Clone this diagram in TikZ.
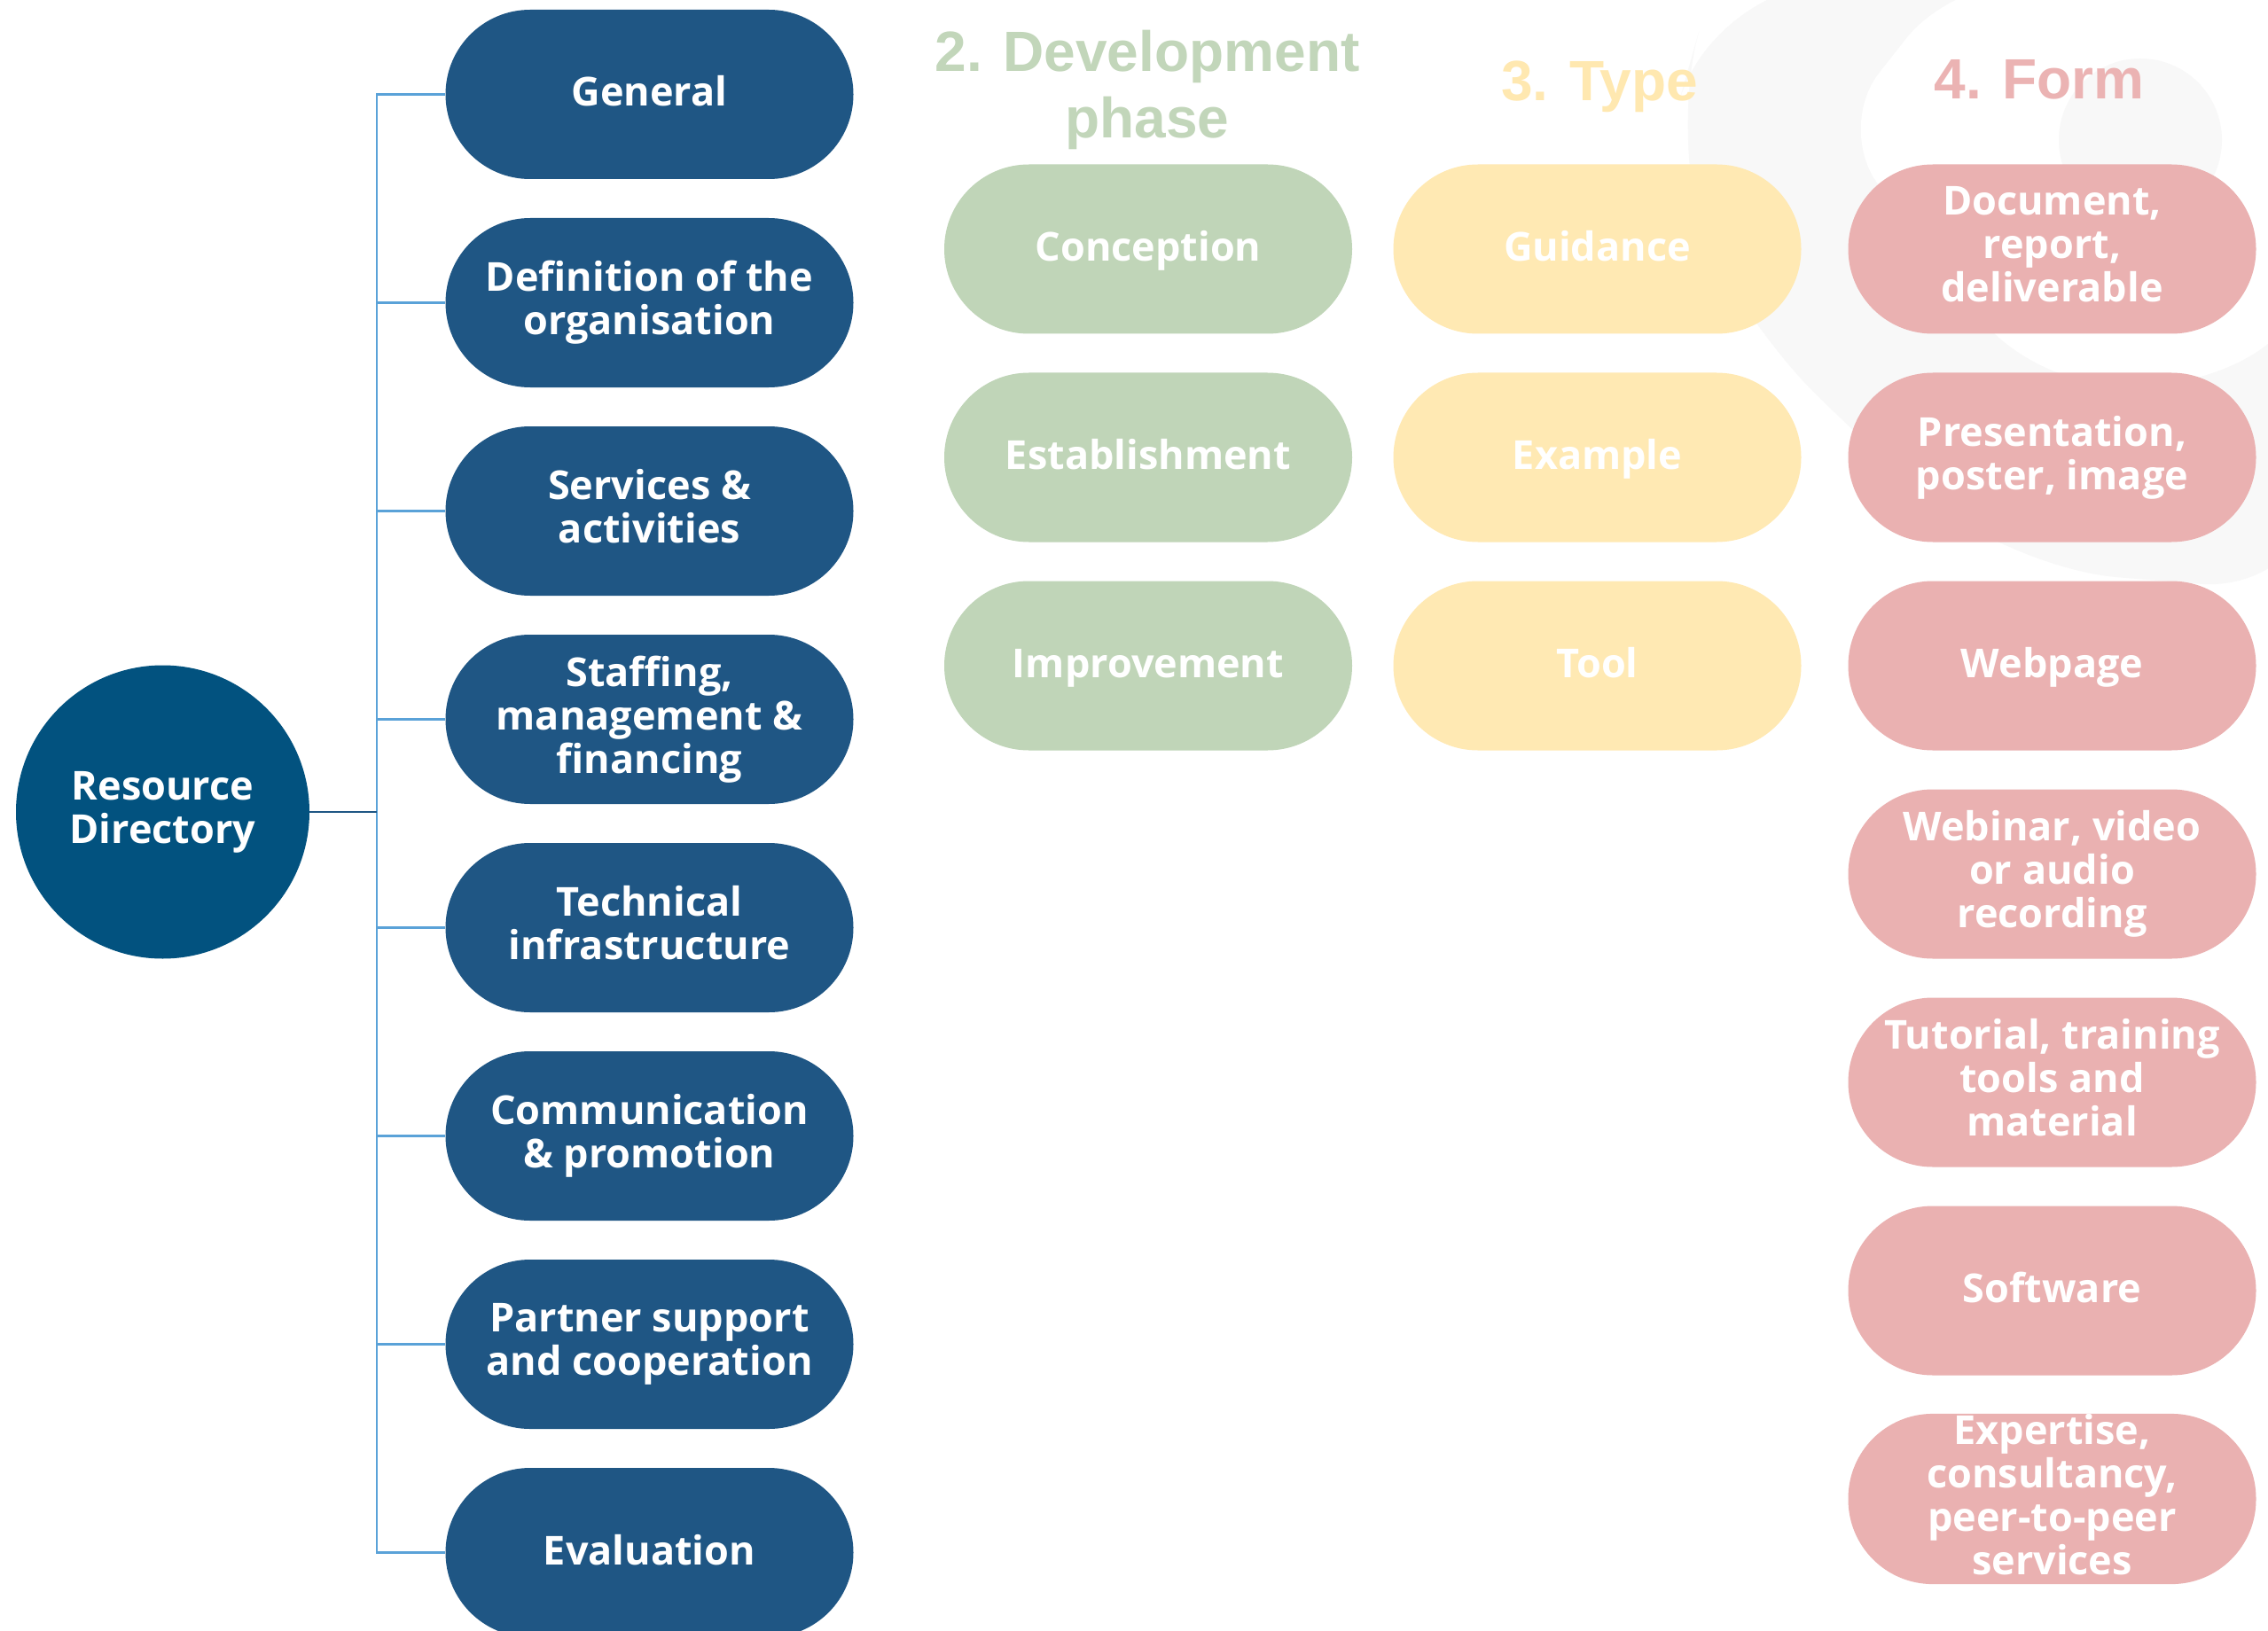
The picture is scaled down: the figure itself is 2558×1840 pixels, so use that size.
\documentclass[tikz,border=0pt]{standalone}
\usepackage{fontspec}
\newfontfamily\pillfont{Open Sans}
\newfontfamily\headfont{Liberation Sans}
\definecolor{pillblue}{HTML}{1F5684}
\definecolor{circblue}{HTML}{02527F}
\definecolor{linkblue}{HTML}{5AA2D8}
\definecolor{pillgreen}{HTML}{C0D5B8}
\definecolor{pillyellow}{HTML}{FFE9B3}
\definecolor{pillpink}{HTML}{EAB1B1}
\definecolor{headgreen}{HTML}{C2D6BA}
\definecolor{headyellow}{HTML}{FFE8B0}
\definecolor{headpink}{HTML}{EBB3B3}
\definecolor{wmgrey}{HTML}{F8F8F8}
\newcommand\pillstrut{\rule[-5.5pt]{0pt}{24.5pt}}
\begin{document}
\begin{tikzpicture}[x=0.5pt,y=-0.5pt,
  pill/.style={rectangle, rounded corners=47.7pt, minimum width=230pt,
    minimum height=95.5pt, inner sep=0pt, align=center, text=white,
    font=\pillfont\bfseries\fontsize{22.5}{24.5}\selectfont,
    execute at begin node=\pillstrut, execute at end node=\pillstrut},
  bluepill/.style={pill, fill=pillblue},
  greenpill/.style={pill, fill=pillgreen},
  yellowpill/.style={pill, fill=pillyellow},
  pinkpill/.style={pill, fill=pillpink},
  rootnode/.style={circle, fill=circblue, minimum size=165.5pt, inner sep=0pt,
    align=center, text=white, font=\pillfont\bfseries\fontsize{22.5}{24.5}\selectfont,
    execute at begin node=\pillstrut, execute at end node=\pillstrut},
  header/.style={align=center, inner sep=0pt,
    font=\headfont\bfseries\fontsize{32}{37.5}\selectfont},
  link/.style={draw=linkblue, line width=1.2pt},
  mainlink/.style={draw=pillblue, line width=1.2pt}
]
\useasboundingbox (0,0) rectangle (2558,1840);
\fill[white] (0,0) rectangle (2558,1840);
\clip (0,0) rectangle (2558,1840);
% faint watermark
\fill[wmgrey, rounded corners=70pt] (1932,-20) -- (1878,170) -- (1950,350)
  -- (2250,640) -- (2620,670) -- (2620,-20) -- cycle;
\fill[white, rounded corners=40pt] (2200,-20) -- (2070,145) -- (2285,425)
  -- (2490,440) -- (2620,340) -- (2620,-20) -- cycle;
\fill[wmgrey] (2414,158) circle[radius=92];

% root
\node[rootnode] (rd) at (183.5,916) {Resource\\Directory};
\coordinate (spine) at (425,0);

% blue column
\node[bluepill] (b1) at (732.5,106.5) {General};
\node[bluepill] (b2) at (732.5,341.5) {Definition of the\\organisation};
\node[bluepill] (b3) at (732.5,576.5) {Services \&\\activities};
\node[bluepill] (b4) at (732.5,811.5) {Staffing,\\management \&\\financing};
\node[bluepill] (b5) at (732.5,1046.5) {Technical\\infrastructure};
\node[bluepill] (b6) at (732.5,1281.5) {Communication\\\& promotion};
\node[bluepill] (b7) at (732.5,1516.5) {Partner support\\and cooperation};
\node[bluepill] (b8) at (732.5,1751.5) {Evaluation};

% connectors
\draw[link] (b1.west) -- (b1.west -| spine) -- (b8.west -| spine) -- (b8.west);
\foreach \k in {2,...,7} {\draw[link] (b\k.west) -- (b\k.west -| spine);}
\draw[mainlink] (rd.east) -- (rd.east -| spine);

% headers
\node[header, text=headgreen] (h2) at (1294,101) {2. Development\\phase};
\node[header, text=headyellow, anchor=base] (h3) at (1804,114) {3. Type};
\node[header, text=headpink, anchor=base] (h4) at (2300,112) {4. Form};

% green column
\node[greenpill] (g1) at (1295,281) {Conception};
\node[greenpill] (g2) at (1295,516) {Establishment};
\node[greenpill] (g3) at (1295,751) {Improvement};

% yellow column
\node[yellowpill] (y1) at (1801.5,281) {Guidance};
\node[yellowpill] (y2) at (1801.5,516) {Example};
\node[yellowpill] (y3) at (1801.5,751) {Tool};

% pink column
\node[pinkpill] (p1) at (2314.5,281) {Document,\\report,\\deliverable};
\node[pinkpill] (p2) at (2314.5,516) {Presentation,\\poster, image};
\node[pinkpill] (p3) at (2314.5,751) {Webpage};
\node[pinkpill] (p4) at (2314.5,986) {Webinar, video\\or audio\\recording};
\node[pinkpill] (p5) at (2314.5,1221) {Tutorial, training\\tools and\\material};
\node[pinkpill] (p6) at (2314.5,1456) {Software};
\node[pinkpill] (p7) at (2314.5,1691) {Expertise,\\consultancy,\\peer-to-peer\\services};
\end{tikzpicture}
\end{document}
